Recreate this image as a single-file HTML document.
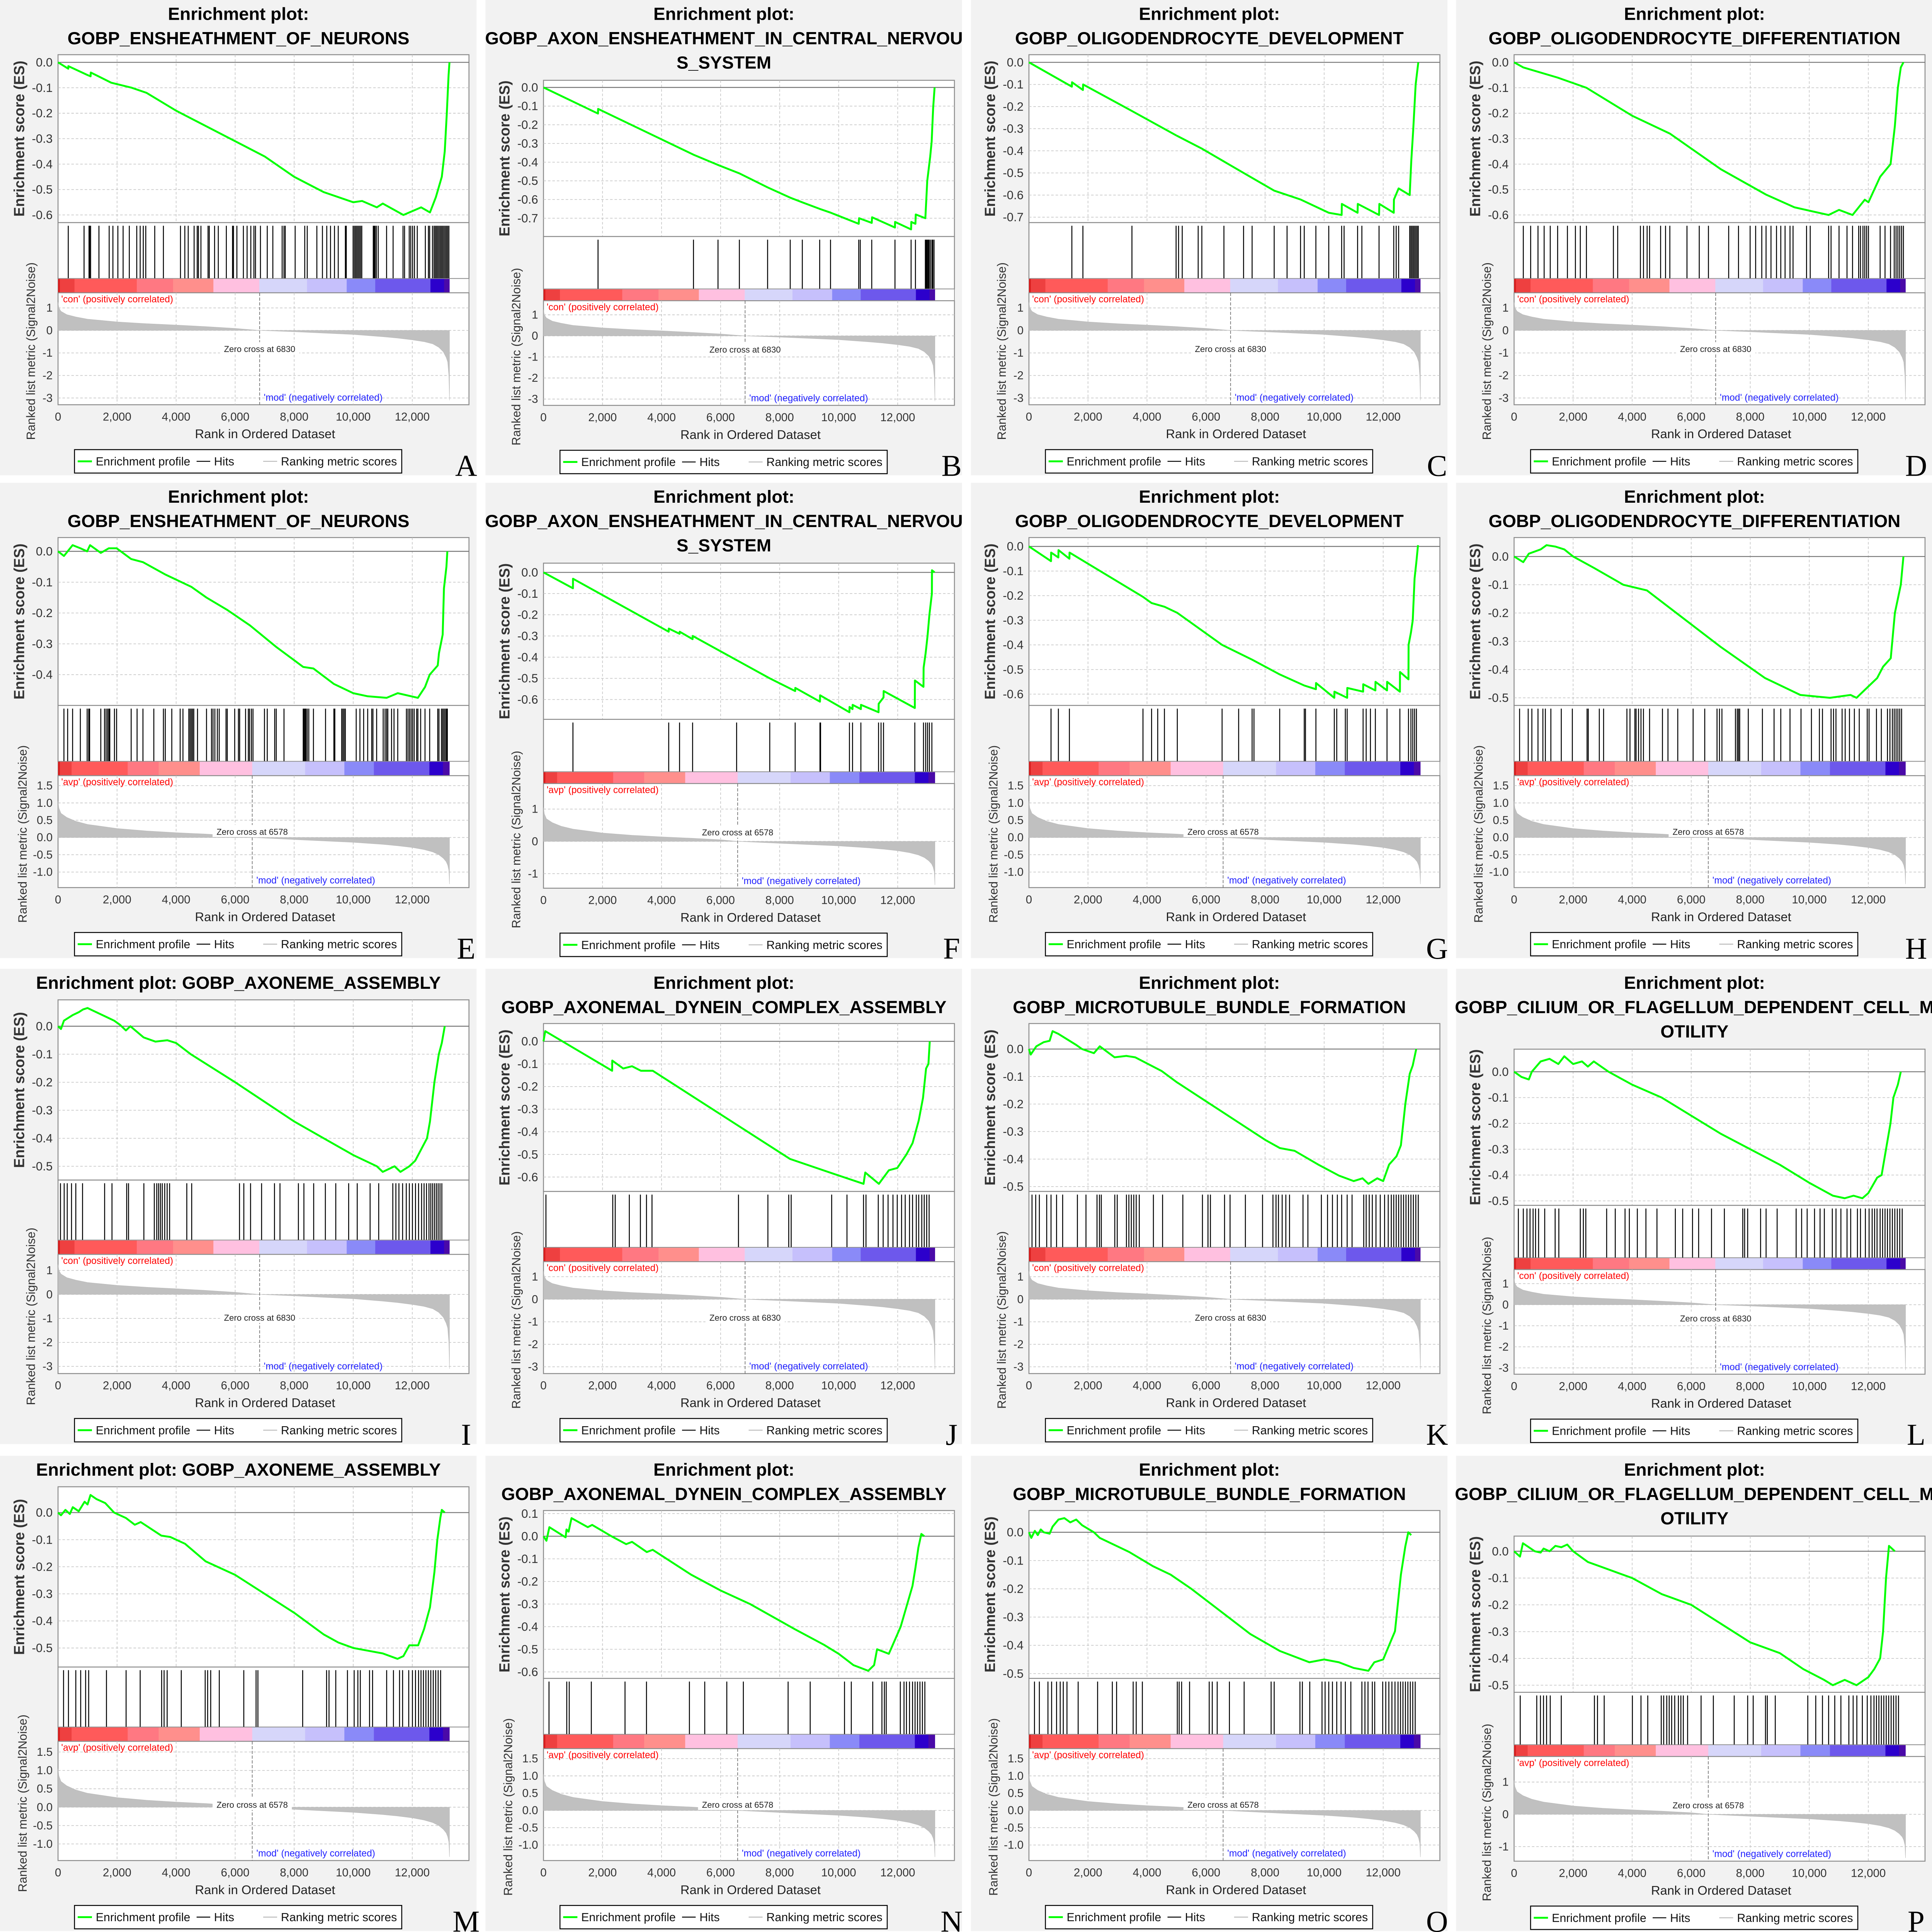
<!DOCTYPE html>
<html><head><meta charset="utf-8"><title>GSEA enrichment plots</title>
<style>
html,body{margin:0;padding:0;background:#fff;overflow:hidden;width:100%;height:100%;}
svg{display:block;width:100vw;height:100vh;font-family:"Liberation Sans",Arial,sans-serif;}
</style></head>
<body>
<svg id="fig" xmlns="http://www.w3.org/2000/svg" viewBox="0 0 6093 6110" preserveAspectRatio="none"></svg>
<script>
// ---------------- data ----------------
const xTicks=[0,2000,4000,6000,8000,10000,12000];
const xTickLabels=['0','2,000','4,000','6,000','8,000','10,000','12,000'];
const conMetricTicks=[1,0,-1,-2,-3];
const avpMetricTicks=[1.5,1.0,0.5,0.0,-0.5,-1.0];
const avpMetricTicksInt=[1,0,-1];
const metricConRanks=[0,30,100,300,600,1000,2000,3000,4000,5000,6000,6830,8000,9000,10000,11000,11500,12000,12400,12700,12900,13050,13150,13200,13240,13262];
const metricConVals=[1.25,1.0,0.85,0.7,0.6,0.5,0.38,0.3,0.24,0.17,0.09,0,-0.06,-0.12,-0.18,-0.28,-0.34,-0.42,-0.5,-0.6,-0.75,-0.95,-1.2,-1.4,-2.0,-3.1];
const metricAvpRanks=[0,30,100,300,600,1000,2000,3000,4000,5000,6000,6578,8000,9000,10000,11000,11500,12000,12400,12700,12900,13050,13150,13200,13240,13262];
const metricAvpVals=[1.05,0.85,0.7,0.58,0.47,0.38,0.26,0.19,0.14,0.1,0.05,0,-0.06,-0.1,-0.14,-0.2,-0.24,-0.29,-0.35,-0.42,-0.5,-0.6,-0.7,-0.8,-0.95,-1.35];
const barConBounds=[0,63,557,2668,3897,5263,6817,8435,9779,10746,12616,13078,13260];
const barAvpBounds=[0,63,460,2360,3410,4800,6578,8370,9700,10700,12580,13040,13260];
const barColors=['#d81e1e','#ee4040','#ff5a5a','#ff7882','#ff8f8c','#ffc0e0','#d6d6fa','#c6c0fc','#8a8af8','#6d58ec','#2c00cc','#4a0aa8'];

const hitsA=[347,882,1050,1071,1103,1386,1733,1859,2027,2205,2415,2667,2783,2888,2972,3276,3570,4148,4295,4410,4610,4715,4757,4841,5082,5124,5303,5429,5702,5912,5943,6059,6279,6405,6531,6636,6689,6857,7088,7277,7592,7655,7697,8033,8358,8442,8768,8957,9104,9230,9366,9492,9734,9765,9996,10038,10080,10122,10164,10206,10248,10290,10679,10710,10742,10784,10847,11130,11351,11687,11739,11897,11949,12012,12075,12170,12443,12548,12590,12684,12737,12779,12821,12863,12905,12947,12989,13031,13073,13115,13157,13199,13241];
const esA=[[0,0],[347,-0.025],[350,-0.015],[1000,-0.05],[1103,-0.055],[1110,-0.04],[1800,-0.08],[2500,-0.1],[3000,-0.12],[4000,-0.19],[5000,-0.25],[6000,-0.31],[7000,-0.37],[8000,-0.45],[9000,-0.51],[10000,-0.55],[10300,-0.545],[10800,-0.57],[11000,-0.555],[11700,-0.6],[12000,-0.585],[12300,-0.57],[12600,-0.59],[12800,-0.53],[13000,-0.45],[13100,-0.35],[13170,-0.2],[13230,-0.05],[13260,0]];
const hitsB=[1848,5082,5912,6636,7592,8358,8768,9356,9723,10679,10731,11120,11907,12453,12600,12936,12968,12999,13031,13062,13104,13157,13188,13230];
const esB=[[0,0],[1848,-0.14],[1850,-0.115],[5082,-0.36],[5912,-0.415],[6636,-0.46],[7592,-0.535],[8358,-0.59],[8768,-0.615],[9356,-0.65],[9723,-0.67],[10679,-0.73],[10690,-0.7],[11120,-0.725],[11130,-0.695],[11907,-0.75],[11910,-0.72],[12453,-0.76],[12460,-0.72],[12600,-0.73],[12610,-0.68],[12936,-0.7],[13000,-0.5],[13100,-0.37],[13150,-0.29],[13200,-0.11],[13250,0]];
const hitsC=[1454,1828,3489,4985,5068,5193,5733,5857,6605,7270,7560,8308,8744,9201,9326,9720,10157,10593,10676,11133,11278,11860,12358,12441,12524,12898,12940,12981,13023,13064,13106,13148,13189];
const esC=[[0,0],[1454,-0.11],[1460,-0.09],[1828,-0.125],[1835,-0.1],[3489,-0.22],[4985,-0.33],[5857,-0.39],[7270,-0.5],[8308,-0.58],[9201,-0.62],[10157,-0.68],[10593,-0.69],[10600,-0.64],[11133,-0.68],[11140,-0.64],[11860,-0.69],[11870,-0.64],[12358,-0.68],[12365,-0.62],[12524,-0.57],[12898,-0.6],[12950,-0.45],[13020,-0.3],[13100,-0.1],[13189,0]];
const hitsD=[312,561,810,1018,1225,1475,1807,2077,2243,2451,3365,3510,4279,4383,4507,4590,4964,5130,5276,5857,6273,6584,7270,7602,7996,8183,8391,8536,8703,8890,9035,9180,9347,9450,9907,10032,10655,10738,11008,11278,11465,11673,11735,11818,11880,11943,12005,12400,12566,12753,12877,12940,13002,13064,13127,13189];
const esD=[[0,0],[312,-0.02],[1475,-0.06],[2451,-0.1],[4000,-0.21],[5276,-0.28],[7000,-0.42],[8536,-0.52],[9500,-0.57],[10655,-0.6],[11008,-0.58],[11465,-0.6],[11880,-0.54],[12005,-0.55],[12400,-0.45],[12753,-0.4],[12900,-0.25],[13000,-0.1],[13100,-0.02],[13189,0]];
const hitsE=[200,326,494,756,987,1040,1071,1449,1575,1628,1680,1722,1754,1911,1985,2478,2678,2877,3245,3570,3633,3854,4137,4232,4431,4473,4515,4557,4599,4725,5030,5198,5250,5313,5397,5460,5691,5733,5985,6111,6153,6353,6447,6489,6552,6605,6993,7088,7340,7392,7655,8306,8337,8369,8400,8442,8495,8652,9062,9345,9377,9608,9650,9692,9734,10101,10227,10353,10490,10626,10668,10794,11015,11078,11130,11172,11298,11382,11508,11802,11855,11907,11960,12012,12065,12149,12191,12285,12432,12590,12863,12905,12989,13031,13073,13115,13157,13188];
const esE=[[0,0],[200,-0.015],[494,0.02],[756,0.01],[987,0.0],[1085,0.02],[1449,-0.005],[1722,0.01],[1985,0.01],[2478,-0.025],[2877,-0.035],[3633,-0.075],[4515,-0.115],[5030,-0.15],[5733,-0.19],[6500,-0.24],[7392,-0.31],[8306,-0.375],[8652,-0.38],[9345,-0.43],[10000,-0.46],[10490,-0.47],[11130,-0.475],[11508,-0.46],[12191,-0.475],[12432,-0.44],[12590,-0.4],[12863,-0.37],[12905,-0.33],[13031,-0.27],[13073,-0.12],[13157,-0.05],[13188,0]];
const hitsF=[998,4242,4610,5051,6542,7665,8526,9366,9387,10364,10469,10752,11351,11435,11519,12579,12873,12947,13010,13073,13157];
const esF=[[0,0],[998,-0.075],[1000,-0.03],[4242,-0.28],[4245,-0.265],[4610,-0.29],[4615,-0.28],[5051,-0.315],[5055,-0.3],[7665,-0.5],[8526,-0.56],[8530,-0.545],[9366,-0.61],[9370,-0.58],[10364,-0.66],[10368,-0.635],[10469,-0.645],[10473,-0.625],[10752,-0.645],[10756,-0.625],[11351,-0.66],[11355,-0.62],[11519,-0.59],[11523,-0.56],[12579,-0.64],[12583,-0.51],[12873,-0.54],[12877,-0.45],[12947,-0.38],[13010,-0.3],[13073,-0.2],[13157,-0.1],[13160,0.01],[13250,0]];
const hitsG=[748,997,1371,3863,4154,4362,4590,5026,6543,7104,7560,7623,8495,9326,9368,9721,10344,10427,10718,10780,11320,11424,11569,11735,12130,12566,12857,12940,13002,13064,13127];
const esG=[[0,0],[748,-0.06],[752,-0.025],[997,-0.045],[1001,-0.015],[1371,-0.05],[1375,-0.025],[3863,-0.205],[4154,-0.23],[4590,-0.245],[5026,-0.27],[6543,-0.4],[7560,-0.46],[8495,-0.52],[9326,-0.565],[9721,-0.58],[9725,-0.555],[10344,-0.615],[10348,-0.59],[10780,-0.615],[10784,-0.575],[11320,-0.59],[11324,-0.56],[11735,-0.585],[11739,-0.55],[12130,-0.585],[12134,-0.55],[12566,-0.59],[12570,-0.51],[12857,-0.54],[12861,-0.4],[12940,-0.35],[13002,-0.3],[13064,-0.13],[13127,-0.06],[13180,0.005]];
const hitsH=[187,478,602,810,976,1059,1246,1599,1973,2472,2513,2887,3032,3822,3926,4092,4133,4216,4299,4382,4590,5026,5213,5545,6065,6459,6875,6958,7041,7498,7560,7602,7643,7934,8412,8807,9035,9347,9720,10073,10343,10447,10738,10821,10904,11112,11216,11361,11527,11693,11963,12025,12275,12441,12649,12732,12815,12877,12940,13002,13064,13127];
const esH=[[0,0],[312,-0.02],[500,0.01],[900,0.025],[1100,0.04],[1400,0.035],[1700,0.025],[2000,0.0],[2700,-0.04],[3700,-0.1],[4500,-0.12],[5500,-0.2],[7000,-0.32],[8500,-0.43],[9700,-0.49],[10700,-0.5],[11400,-0.49],[11600,-0.5],[12000,-0.46],[12300,-0.43],[12500,-0.39],[12760,-0.36],[12900,-0.2],[13100,-0.1],[13189,0]];
const hitsI=[83,208,312,457,602,831,1579,1828,2326,2389,2908,3261,3344,3406,3468,3531,3614,3697,3780,4362,4528,6148,6294,6522,6896,7332,7519,8142,8329,8661,9056,9409,9845,10136,10572,10863,11341,11445,11548,11673,11797,11901,12005,12109,12213,12316,12400,12483,12566,12628,12690,12753,12815,12877,12940,13002];
const esI=[[0,0],[100,-0.01],[200,0.02],[500,0.04],[700,0.05],[850,0.06],[1000,0.065],[1200,0.055],[1600,0.035],[1900,0.02],[2100,0.005],[2300,-0.015],[2450,0.0],[2900,-0.04],[3300,-0.055],[3700,-0.05],[4000,-0.06],[4500,-0.1],[6000,-0.2],[7000,-0.27],[8000,-0.34],[9000,-0.4],[10000,-0.46],[10800,-0.5],[11000,-0.52],[11400,-0.5],[11600,-0.52],[11900,-0.5],[12100,-0.48],[12300,-0.44],[12500,-0.4],[12600,-0.34],[12750,-0.2],[12900,-0.1],[13000,-0.06],[13100,0]];
const hitsJ=[83,2347,2430,2908,3282,3489,3676,6605,7602,8308,8391,9762,10281,10842,10925,11341,11507,11673,11839,11984,12130,12254,12400,12503,12628,12711,12815,12898,12981,13064];
const esJ=[[0,0],[60,0.045],[2326,-0.13],[2330,-0.085],[2700,-0.12],[3000,-0.11],[3300,-0.13],[3700,-0.13],[8350,-0.52],[9700,-0.58],[10842,-0.63],[10900,-0.58],[11361,-0.63],[11700,-0.57],[11985,-0.56],[12296,-0.5],[12503,-0.45],[12711,-0.35],[12857,-0.25],[12961,-0.12],[13040,-0.1],[13085,0]];
const hitsK=[104,229,353,602,748,935,1142,1641,1932,2306,2389,2451,2908,2991,3302,3385,3468,3551,3634,3738,4216,4528,5213,5878,6065,6148,6626,6813,7332,7913,8266,8370,8453,8578,8703,8827,9284,9450,9907,10115,10281,10447,10593,10780,10946,11341,11424,11528,11632,11756,11901,12047,12171,12275,12358,12441,12524,12607,12690,12773,12857,12940,13023,13106,13189];
const esK=[[0,0],[60,-0.02],[250,0.01],[500,0.025],[700,0.03],[800,0.065],[1000,0.055],[1300,0.035],[1600,0.015],[1800,0.0],[2200,-0.015],[2400,0.01],[2900,-0.03],[3300,-0.025],[3600,-0.03],[4500,-0.08],[5000,-0.12],[6000,-0.19],[7000,-0.26],[8000,-0.33],[8500,-0.36],[9000,-0.37],[9800,-0.42],[10500,-0.46],[11000,-0.48],[11300,-0.47],[11500,-0.49],[11800,-0.47],[12000,-0.48],[12200,-0.42],[12450,-0.39],[12600,-0.35],[12750,-0.2],[12900,-0.09],[13000,-0.06],[13120,0]];
const hitsL=[145,312,436,540,644,727,831,1038,1391,1516,2243,2347,2430,3136,3427,3759,3905,4175,4466,4840,5463,5712,6044,6252,6688,7124,7747,7810,7913,8350,8537,8911,9555,9741,9928,10178,10365,10510,10780,10905,11071,11279,11403,11631,11735,11901,12026,12130,12213,12296,12400,12483,12566,12649,12732,12815,12898,12981,13064,13148];
const esL=[[0,0],[250,-0.02],[500,-0.03],[600,0.0],[900,0.04],[1200,0.05],[1500,0.03],[1700,0.06],[2000,0.03],[2300,0.04],[2500,0.02],[2700,0.04],[3200,0.0],[4000,-0.05],[5000,-0.1],[6000,-0.17],[7000,-0.24],[8000,-0.3],[9000,-0.36],[10000,-0.43],[10800,-0.48],[11200,-0.49],[11500,-0.48],[11800,-0.49],[12000,-0.47],[12150,-0.44],[12300,-0.41],[12450,-0.4],[12600,-0.3],[12750,-0.2],[12850,-0.1],[13000,-0.05],[13100,0]];
const hitsM=[187,353,602,768,935,1038,1641,2306,2783,3510,3593,3697,4175,4985,5068,5172,5463,6293,6709,6771,8287,9097,9180,9409,9804,10032,10157,10240,10552,10655,11133,11362,11569,11673,11881,12005,12109,12213,12296,12379,12462,12545,12628,12711,12794,12877,12960];
const esM=[[0,0],[100,-0.01],[250,0.01],[400,-0.005],[500,0.02],[700,0.005],[900,0.04],[1000,0.03],[1100,0.065],[1300,0.05],[1600,0.035],[1900,0.0],[2300,-0.02],[2600,-0.045],[2800,-0.035],[3500,-0.085],[3800,-0.09],[4300,-0.115],[5000,-0.18],[6000,-0.23],[7000,-0.3],[8000,-0.37],[9000,-0.45],[9500,-0.48],[10000,-0.5],[10500,-0.51],[11000,-0.52],[11500,-0.54],[11700,-0.53],[11900,-0.49],[12200,-0.49],[12400,-0.43],[12600,-0.35],[12750,-0.22],[12850,-0.1],[12950,-0.02],[13000,0.01],[13100,0]];
const hitsN=[187,789,872,1620,2762,3489,4943,5463,6210,6771,8287,9035,10198,10427,11154,11465,11548,11610,12088,12213,12296,12400,12503,12587,12670,12753,12836,12919];
const esN=[[0,0],[100,-0.02],[200,0.04],[750,-0.005],[780,0.03],[850,0.02],[950,0.08],[1500,0.04],[1650,0.05],[2300,0.0],[2800,-0.035],[3000,-0.025],[3500,-0.07],[3700,-0.06],[5000,-0.17],[6000,-0.24],[7000,-0.3],[8500,-0.41],[9500,-0.48],[10000,-0.52],[10200,-0.54],[10500,-0.57],[11000,-0.595],[11200,-0.57],[11300,-0.5],[11700,-0.52],[11900,-0.46],[12100,-0.4],[12300,-0.31],[12500,-0.22],[12600,-0.14],[12700,-0.05],[12800,0.01],[12900,0]];
const hitsO=[187,353,644,768,935,1059,1163,1288,1667,2326,2825,2970,3531,3634,3842,5026,5089,5172,5442,6107,6210,6377,6792,7290,8204,8308,9180,9263,9513,9928,10032,10157,10281,10427,10572,10718,10905,11279,11382,11486,11632,11714,11984,12088,12192,12296,12400,12503,12587,12670,12753,12836,12919,13002,13085];
const esO=[[0,0],[80,-0.02],[200,0.005],[300,-0.01],[400,0.01],[500,0.0],[700,-0.005],[800,0.02],[1000,0.045],[1200,0.05],[1400,0.035],[1600,0.045],[1800,0.025],[2200,0.0],[2400,-0.02],[3000,-0.05],[3400,-0.07],[4200,-0.12],[4800,-0.15],[5500,-0.2],[6500,-0.28],[7500,-0.36],[8500,-0.42],[9500,-0.46],[10000,-0.45],[10500,-0.46],[11000,-0.48],[11500,-0.49],[11700,-0.46],[12000,-0.45],[12200,-0.4],[12400,-0.35],[12600,-0.15],[12750,-0.05],[12850,0.0],[12950,-0.01]];
const hitsP=[208,768,893,997,1101,1225,1599,2721,2825,3053,4008,4299,4528,4985,5068,5172,5255,5338,5442,5567,5650,5733,5878,6335,6750,7457,7913,8100,8516,8578,8848,9949,10219,10447,10655,10863,11071,11341,11486,11611,11798,11964,12088,12192,12275,12358,12441,12524,12607,12690,12773,12856,12939,13022];
const esP=[[0,0],[200,-0.02],[300,0.03],[700,0.0],[900,-0.005],[1000,0.01],[1200,0.0],[1400,0.02],[1600,0.015],[1800,0.025],[2000,0.0],[2500,-0.04],[3000,-0.06],[4000,-0.1],[5000,-0.16],[6000,-0.2],[7000,-0.27],[8000,-0.34],[9000,-0.38],[9800,-0.44],[10500,-0.48],[10800,-0.5],[11200,-0.48],[11600,-0.5],[12000,-0.47],[12200,-0.44],[12400,-0.4],[12500,-0.3],[12600,-0.1],[12700,0.02],[12900,0]];

// ---------------- layout ----------------
const NS='http://www.w3.org/2000/svg';
const svg=document.getElementById('fig');
const colLefts=[0,1531,3062,4592];
const rowTops=[0,1527,3064,4604];
const PW=1503, PH=1503;
const PL=183, PR=1479, XMAX=13921;
const LAY={
  1:{t:98,e:668,h:858,c:903,m:1280},
  2:{t:173,e:704,h:881,c:926,m:1280},
  3:{t:254,e:748,h:914,c:951,m:1282}
};
const T_ENS=['Enrichment plot:','GOBP_ENSHEATHMENT_OF_NEURONS'];
const T_AXON=['Enrichment plot:','GOBP_AXON_ENSHEATHMENT_IN_CENTRAL_NERVOU','S_SYSTEM'];
const T_OLD=['Enrichment plot:','GOBP_OLIGODENDROCYTE_DEVELOPMENT'];
const T_OLF=['Enrichment plot:','GOBP_OLIGODENDROCYTE_DIFFERENTIATION'];
const T_AXE=['Enrichment plot: GOBP_AXONEME_ASSEMBLY'];
const T_DYN=['Enrichment plot:','GOBP_AXONEMAL_DYNEIN_COMPLEX_ASSEMBLY'];
const T_MIC=['Enrichment plot:','GOBP_MICROTUBULE_BUNDLE_FORMATION'];
const T_CIL=['Enrichment plot:','GOBP_CILIUM_OR_FLAGELLUM_DEPENDENT_CELL_M','OTILITY'];
const panels=[
 {id:'A',r:0,c:0,title:T_ENS,es:esA,hits:hitsA},
 {id:'B',r:0,c:1,title:T_AXON,es:esB,hits:hitsB},
 {id:'C',r:0,c:2,title:T_OLD,es:esC,hits:hitsC},
 {id:'D',r:0,c:3,title:T_OLF,es:esD,hits:hitsD},
 {id:'E',r:1,c:0,title:T_ENS,es:esE,hits:hitsE},
 {id:'F',r:1,c:1,title:T_AXON,es:esF,hits:hitsF,intTicks:true},
 {id:'G',r:1,c:2,title:T_OLD,es:esG,hits:hitsG},
 {id:'H',r:1,c:3,title:T_OLF,es:esH,hits:hitsH},
 {id:'I',r:2,c:0,title:T_AXE,es:esI,hits:hitsI},
 {id:'J',r:2,c:1,title:T_DYN,es:esJ,hits:hitsJ},
 {id:'K',r:2,c:2,title:T_MIC,es:esK,hits:hitsK},
 {id:'L',r:2,c:3,title:T_CIL,es:esL,hits:hitsL},
 {id:'M',r:3,c:0,title:T_AXE,es:esM,hits:hitsM},
 {id:'N',r:3,c:1,title:T_DYN,es:esN,hits:hitsN},
 {id:'O',r:3,c:2,title:T_MIC,es:esO,hits:hitsO},
 {id:'P',r:3,c:3,title:T_CIL,es:esP,hits:hitsP,intTicks:true}
];

function mk(tag,attrs,parent,text){
  const el=document.createElementNS(NS,tag);
  for(const k in attrs) el.setAttribute(k,attrs[k]);
  if(text!==undefined) el.textContent=text;
  (parent||svg).appendChild(el);
  return el;
}

panels.forEach(p=>{
  const ox=colLefts[p.c], oy=rowTops[p.r];
  const L=LAY[p.title.length];
  const isCon=(p.r%2===0);
  const g=mk('g',{transform:`translate(${ox},${oy})`});
  
  
  const X=r=>PL+(r/XMAX)*(PR-PL);

  const bg=mk('rect',{x:0,y:0,width:PW,height:PH,fill:'#f2f2f2'},g);
  
  

  p.title.forEach((line,i)=>{
    const t=mk('text',{x:752,y:43+i*77+20,'text-anchor':'middle','font-size':56,'font-weight':'bold',fill:'#000'},g,line);
    
    
  });

  let mx=0,mn=0; p.es.forEach(d=>{mx=Math.max(mx,d[1]);mn=Math.min(mn,d[1]);});
  const pad=0.05*(mx-mn); const top=mx+pad, bot=mn-pad;
  const YE=v=>L.t+(top-v)/(top-bot)*(L.e-L.t);
  const esBox=mk('rect',{x:PL,y:L.t,width:PR-PL,height:L.e-L.t,fill:'#fff',stroke:'#8c8c8c','stroke-width':3},g);
  
  
  xTicks.slice(1).forEach(r=>{
    const gl=mk('line',{x1:X(r),x2:X(r),y1:L.t,y2:L.e,stroke:'#c4c4c4','stroke-width':2,'stroke-dasharray':'8,6'},g);
    
    
  });
  for(let k=Math.ceil(bot*10-1e-9);k<=Math.floor(top*10+1e-9);k++){
    const v=k/10, y=YE(v);
    if(k!==0){
      const gl=mk('line',{x1:PL,x2:PR,y1:y,y2:y,stroke:'#c4c4c4','stroke-width':2,'stroke-dasharray':'8,6'},g);
      
      
    }
    const lab=(k===0)?'0.0':v.toFixed(1);
    const tl=mk('text',{x:166,y:y+13,'text-anchor':'end','font-size':38,fill:'#333'},g,lab);
    
    
  }
  const zl=mk('line',{x1:PL,x2:PR,y1:YE(0),y2:YE(0),stroke:'#777','stroke-width':3},g);
  
  
  const pts=p.es.map(d=>X(d[0]).toFixed(1)+','+YE(d[1]).toFixed(1)).join(' ');
  const curve=mk('polyline',{points:pts,fill:'none',stroke:'#00ff00','stroke-width':6,'stroke-linejoin':'round'},g);
  
  
  const esl=mk('text',{x:0,y:0,transform:`translate(76,${(L.t+L.e)/2}) rotate(-90)`,'text-anchor':'middle','font-size':46,'font-weight':'bold',fill:'#333'},g,'Enrichment score (ES)');
  
  

  const hb=mk('rect',{x:PL,y:L.e,width:PR-PL,height:L.h-L.e,fill:'#fff',stroke:'#8c8c8c','stroke-width':3},g);
  
  
  p.hits.forEach(r=>{
    const hl=mk('line',{x1:X(r),x2:X(r),y1:L.e+10,y2:L.h,stroke:'#000','stroke-width':3},g);
    
    
  });

  const bounds=isCon?barConBounds:barAvpBounds;
  const cbg=mk('rect',{x:PL,y:L.h,width:PR-PL,height:L.c-L.h,fill:'#fff',stroke:'#8c8c8c','stroke-width':2},g);
  
  
  for(let i=0;i<barColors.length;i++){
    const seg=mk('rect',{x:X(bounds[i]),y:L.h+1,width:X(bounds[i+1])-X(bounds[i])+0.5,height:L.c-L.h-2,fill:barColors[i]},g);
    
    
  }

  let mTop,mBot,ticks;
  if(isCon){mTop=1.67;mBot=-3.3;ticks=conMetricTicks;}
  else{mTop=1.79;mBot=-1.45;ticks=p.intTicks?avpMetricTicksInt:avpMetricTicks;}
  const YM=v=>L.c+(mTop-v)/(mTop-mBot)*(L.m-L.c);
  const mb=mk('rect',{x:PL,y:L.c,width:PR-PL,height:L.m-L.c,fill:'#fff',stroke:'#8c8c8c','stroke-width':3},g);
  
  
  xTicks.slice(1).forEach(r=>{
    const gl=mk('line',{x1:X(r),x2:X(r),y1:L.c,y2:L.m,stroke:'#c4c4c4','stroke-width':2,'stroke-dasharray':'8,6'},g);
    
    
  });
  ticks.forEach(v=>{
    const y=YM(v);
    const gl=mk('line',{x1:PL,x2:PR,y1:y,y2:y,stroke:'#c4c4c4','stroke-width':2,'stroke-dasharray':'8,6'},g);
    
    
    const lab=(isCon||p.intTicks)?String(v):v.toFixed(1);
    const tl=mk('text',{x:166,y:y+12,'text-anchor':'end','font-size':36,fill:'#333'},g,lab);
    
    
  });
  const mr=isCon?metricConRanks:metricAvpRanks, mv=isCon?metricConVals:metricAvpVals;
  let fp=X(0).toFixed(1)+','+YM(0).toFixed(1);
  for(let i=0;i<mr.length;i++) fp+=' '+X(mr[i]).toFixed(1)+','+YM(mv[i]).toFixed(1);
  fp+=' '+X(mr[mr.length-1]).toFixed(1)+','+YM(0).toFixed(1);
  const fill=mk('polygon',{points:fp,fill:'#c0c0c0',stroke:'#b8b8b8','stroke-width':1},g);
  
  
  const zc=isCon?6830:6578;
  const zx=X(zc);
  const zline=mk('line',{x1:zx,x2:zx,y1:L.c,y2:L.m,stroke:'#666','stroke-width':2,'stroke-dasharray':'10,5'},g);
  
  
  const zy=L.m-176;
  const zbg=mk('rect',{x:zx-125,y:zy-22,width:250,height:38,fill:'#fff'},g);
  
  
  const zt=mk('text',{x:zx,y:zy+9,'text-anchor':'middle','font-size':27,fill:'#222'},g,'Zero cross at '+zc);
  
  
  const pos=mk('text',{x:193,y:L.c+30,'font-size':30,fill:'#ff0000'},g,(isCon?"'con'":"'avp'")+' (positively correlated)');
  
  
  const neg=mk('text',{x:zx+13,y:L.m-13,'font-size':30,fill:'#2222ff'},g,"'mod' (negatively correlated)");
  
  
  const mlx=(isCon||p.intTicks)?110:84;
  const ml=mk('text',{x:0,y:0,transform:`translate(${mlx},${(L.h+L.m)/2+30}) rotate(-90)`,'text-anchor':'middle','font-size':38,fill:'#333'},g,'Ranked list metric (Signal2Noise)');
  
  

  xTicks.forEach((r,i)=>{
    const tl=mk('text',{x:X(r),y:L.m+50,'text-anchor':'middle','font-size':36,fill:'#333'},g,xTickLabels[i]);
    
    
  });
  const xt=mk('text',{x:836,y:L.m+106,'text-anchor':'middle','font-size':40,fill:'#222'},g,'Rank in Ordered Dataset');
  
  

  const ly=L.m+142;
  const lg=mk('rect',{x:235,y:ly,width:1032,height:74,fill:'#fff',stroke:'#000','stroke-width':3},g);
  
  
  const lcy=ly+37;
  const l1=mk('line',{x1:245,x2:290,y1:lcy,y2:lcy,stroke:'#00ff00','stroke-width':6},g);
  
  
  const t1=mk('text',{x:302,y:lcy+13,'font-size':37,fill:'#111'},g,'Enrichment profile');
  
  
  const l2=mk('line',{x1:620,x2:663,y1:lcy,y2:lcy,stroke:'#000','stroke-width':3},g);
  
  
  const t2=mk('text',{x:675,y:lcy+13,'font-size':37,fill:'#111'},g,'Hits');
  
  
  const l3=mk('line',{x1:830,x2:874,y1:lcy,y2:lcy,stroke:'#bbb','stroke-width':3},g);
  
  
  const t3=mk('text',{x:886,y:lcy+13,'font-size':37,fill:'#111'},g,'Ranking metric scores');
  
  

  const letterX=(p.c===3)?1451:1470;
  const letter=mk('text',{x:letterX,y:PH+2,'text-anchor':'middle','font-size':96,'font-family':'"Liberation Serif",serif',fill:'#000'},g,p.id);
  
  
});
</script>
</body></html>
